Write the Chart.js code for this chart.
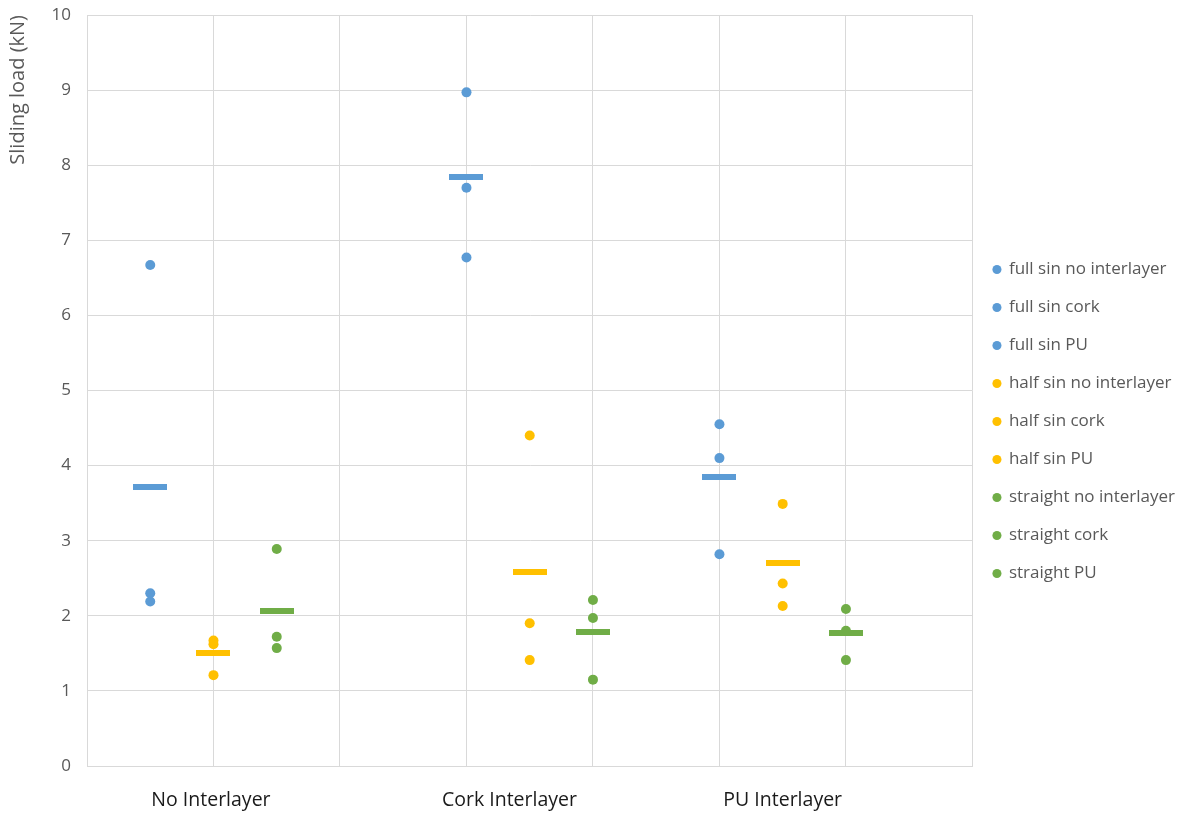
<!DOCTYPE html>
<html>
<head>
<meta charset="utf-8">
<script src="https://cdn.jsdelivr.net/npm/chart.js@4.4.1/dist/chart.umd.min.js"></script>
<style>
  html, body { margin: 0; padding: 0; background: #fff; }
  #wrap { width: 1191px; height: 814px; }
</style>
</head>
<body>
<div id="wrap"><canvas id="slideChart" width="1191" height="814"></canvas></div>
<script>
// Group labels and where they sit along the x axis
const groupLabels = ['No Interlayer', 'Cork Interlayer', 'PU Interlayer'];
const groupLabelX = [0.98, 3.34, 5.5];

// x positions of each specimen type inside the groups
const fullX = [0.5, 3, 5];
const halfX = [1, 3.5, 5.5];
const straightX = [1.5, 4, 6];

// Sliding load (kN) per test
const fullNo = [6.67, 2.30, 2.19];
const fullCork = [8.97, 7.70, 6.77];
const fullPU = [4.55, 4.10, 2.82];
const halfNo = [1.67, 1.62, 1.21];
const halfCork = [4.40, 1.90, 1.41];
const halfPU = [3.49, 2.43, 2.13];
const straightNo = [2.89, 1.72, 1.57];
const straightCork = [2.21, 1.97, 1.15];
const straightPU = [2.09, 1.80, 1.41];

// Mean markers (dash) per group
const fullMean = [3.72, 7.84, 3.85];
const halfMean = [1.51, 2.58, 2.70];
const straightMean = [2.07, 1.78, 1.77];

const yTicks = [0, 1, 2, 3, 4, 5, 6, 7, 8, 9, 10];

const BLUE = '#5B9BD5';
const YELLOW = '#FFC000';
const GREEN = '#70AD47';
const GREY_TEXT = '#595959';
const GRID = '#D9D9D9';
const FONT = "'Open Sans', 'Liberation Sans', sans-serif";

function pts(x, vals) {
    return vals.map(v => ({ x: x, y: v }));
}

// little filled bar used as the point style of the mean markers
function dashImage(color) {
    const c = document.createElement('canvas');
    c.width = 34;
    c.height = 6;
    const g = c.getContext('2d');
    g.fillStyle = color;
    g.fillRect(0, 0, c.width, c.height);
    return c;
}

function scatterSet(label, x, vals, color) {
    return {
        label: label,
        data: pts(x, vals),
        backgroundColor: color,
        borderColor: color,
        pointRadius: 5,
        pointHoverRadius: 5,
        pointBorderWidth: 0,
        pointStyle: 'circle',
        showLine: false
    };
}

function meanSet(xs, vals, color) {
    const img = dashImage(color);
    return {
        label: '_mean',
        data: xs.map((x, i) => ({ x: x, y: vals[i] })),
        backgroundColor: color,
        borderColor: color,
        pointStyle: img,
        pointRadius: 1,
        pointHoverRadius: 1,
        pointBorderWidth: 0,
        showLine: false
    };
}

const datasets = [
    meanSet(fullX, fullMean, BLUE),
    meanSet(halfX, halfMean, YELLOW),
    meanSet(straightX, straightMean, GREEN),
    scatterSet('full sin no interlayer', fullX[0], fullNo, BLUE),
    scatterSet('full sin cork', fullX[1], fullCork, BLUE),
    scatterSet('full sin PU', fullX[2], fullPU, BLUE),
    scatterSet('half sin no interlayer', halfX[0], halfNo, YELLOW),
    scatterSet('half sin cork', halfX[1], halfCork, YELLOW),
    scatterSet('half sin PU', halfX[2], halfPU, YELLOW),
    scatterSet('straight no interlayer', straightX[0], straightNo, GREEN),
    scatterSet('straight cork', straightX[1], straightCork, GREEN),
    scatterSet('straight PU', straightX[2], straightPU, GREEN)
];

const ctx = document.getElementById('slideChart').getContext('2d');
new Chart(ctx, {
    type: 'scatter',
    data: { datasets: datasets },
    options: {
        responsive: false,
        animation: false,
        layout: { padding: { left: 6, right: 6, top: 15, bottom: 0 } },
        plugins: {
            tooltip: { enabled: false },
            legend: {
                position: 'right',
                title: { display: true, text: '', font: { size: 10 }, padding: { top: 1, bottom: 1 } },
                labels: {
                    usePointStyle: true,
                    pointStyle: 'circle',
                    boxWidth: 7,
                    boxHeight: 6.4,
                    padding: 21,
                    color: GREY_TEXT,
                    font: { family: FONT, size: 17 },
                    filter: item => item.text !== '_mean'
                }
            }
        },
        scales: {
            x: {
                type: 'linear',
                min: 0,
                max: 7,
                afterBuildTicks: axis => {
                    axis.ticks = [0, 1, 2, 3, 4, 5, 6, 7].map(v => ({ value: v }));
                },
                afterFit: axis => { axis.height = 0; },
                ticks: { display: false },
                grid: { color: GRID, drawTicks: false },
                border: { color: GRID }
            },
            x2: {
                type: 'linear',
                position: 'bottom',
                min: 0,
                max: 7,
                afterBuildTicks: axis => {
                    axis.ticks = groupLabelX.map(v => ({ value: v }));
                },
                afterFit: axis => { axis.height = 48; },
                ticks: {
                    color: '#1a1a1a',
                    font: { family: FONT, size: 19.5 },
                    padding: 15,
                    maxRotation: 0,
                    callback: (v) => groupLabels[groupLabelX.indexOf(v)]
                },
                grid: { display: false },
                border: { display: false }
            },
            y: {
                min: 0,
                max: 10,
                afterBuildTicks: axis => {
                    axis.ticks = yTicks.map(v => ({ value: v }));
                },
                afterFit: axis => {
                    axis.width = 81;
                    axis.paddingTop = 0;
                    axis.paddingBottom = 0;
                },
                ticks: {
                    color: GREY_TEXT,
                    font: { family: FONT, size: 17 },
                    padding: 16
                },
                grid: { color: GRID, drawTicks: false },
                border: { color: GRID },
                title: {
                    display: true,
                    text: 'Sliding load (kN)',
                    align: 'end',
                    color: GREY_TEXT,
                    font: { family: FONT, size: 20 },
                    padding: { top: 0, bottom: 4 }
                }
            }
        }
    }
});
</script>
</body>
</html>
